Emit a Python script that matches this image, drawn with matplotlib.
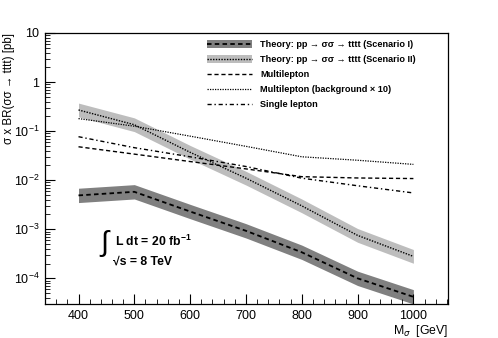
import numpy as np
import matplotlib.pyplot as plt
from matplotlib.patches import Patch
from matplotlib.ticker import FixedLocator, LogLocator, FuncFormatter, NullFormatter

plt.rcParams['font.family'] = ['Liberation Sans', 'DejaVu Sans']
plt.rcParams['mathtext.fontset'] = 'custom'
plt.rcParams['mathtext.rm'] = 'Liberation Sans'
plt.rcParams['mathtext.bf'] = 'Liberation Sans:bold'

# masses (GeV)
mass = [400, 500, 600, 700, 800, 900, 1000]

# theory cross sections (pb) and band factors
theory_1 = [4.9e-3, 5.8e-3, 2.3e-3, 9.3e-4, 3.4e-4, 1.0e-4, 4.2e-5]
theory_2 = [0.27, 0.135, 0.037, 0.011, 3.0e-3, 7.5e-4, 2.8e-4]
band_1 = 1.4
band_2 = 1.38

# limits (pb)
multilepton = [0.048, 0.034, 0.024, 0.017, 0.0118, 0.0111, 0.0108]
multilepton_bkg = [0.18, 0.126, 0.079, 0.049, 0.030, 0.0255, 0.021]
single_lepton = [0.077, 0.046, 0.030, 0.019, 0.011, 0.0077, 0.0055]

mass = np.array(mass)
theory_1 = np.array(theory_1)
theory_2 = np.array(theory_2)

fig = plt.figure(figsize=(4.98, 3.38), dpi=100)
ax = fig.add_axes([0.0904, 0.1006, 0.8092, 0.8018])

ax.fill_between(mass, theory_1 / band_1, theory_1 * band_1, color='#808080', lw=0)
ax.fill_between(mass, theory_2 / band_2, theory_2 * band_2, color='#bdbdbd', lw=0)
h1, = ax.plot(mass, theory_1, color='black', ls=(0, (2.5, 1.8)), lw=1.3)
h2, = ax.plot(mass, theory_2, color='black', ls=(0, (1, 1)), lw=1.0)
h3, = ax.plot(mass, multilepton, color='black', ls=(0, (3, 2)), lw=1.0)
h4, = ax.plot(mass, multilepton_bkg, color='black', ls=(0, (1, 1)), lw=0.9)
h5, = ax.plot(mass, single_lepton, color='black', ls=(0, (3, 2, 1, 2)), lw=1.0)

p1 = Patch(color='#808080', lw=0)
p2 = Patch(color='#bdbdbd', lw=0)

labels = ['Theory: pp \u2192 σσ \u2192 tttt (Scenario I)',
          'Theory: pp \u2192 σσ \u2192 tttt (Scenario II)',
          'Multilepton',
          'Multilepton (background \u00d7 10)',
          'Single lepton']
leg = ax.legend([(p1, h1), (p2, h2), h3, h4, h5], labels,
                loc='upper left', bbox_to_anchor=(0.402, 0.974),
                frameon=False,
                prop={'size': 6.6, 'weight': 'bold'},
                handlelength=4.9, handleheight=1.0, labelspacing=0.63,
                borderpad=0, handletextpad=0.87, borderaxespad=0)

ax.set_yscale('log')
ax.set_xlim(340, 1062)
ax.set_ylim(3.0e-5, 10)

ax.xaxis.set_major_locator(FixedLocator([400, 500, 600, 700, 800, 900, 1000]))
ax.xaxis.set_minor_locator(FixedLocator(np.arange(340, 1061, 20)))
ax.yaxis.set_major_locator(LogLocator(base=10, numticks=12))
ax.yaxis.set_minor_locator(LogLocator(base=10, subs=np.arange(2, 10), numticks=12))
ax.yaxis.set_minor_formatter(NullFormatter())


def ylab(v, pos):
    e = int(round(np.log10(v)))
    if e == 1:
        return '10'
    if e == 0:
        return '1'
    return r'$10^{%d}$' % e


ax.yaxis.set_major_formatter(FuncFormatter(ylab))
ax.tick_params(which='both', direction='in', top=False, right=False, labelsize=9)
ax.tick_params(which='major', length=7, width=0.8, pad=4)
ax.tick_params(which='minor', length=3.5, width=0.6)
for s in ax.spines.values():
    s.set_linewidth(0.9)

ax.set_ylabel('σ x BR(σσ \u2192 tttt) [pb]', fontsize=8.3, loc='top')
ax.yaxis.set_label_coords(-0.074, 1.0)
ax.set_xlabel(r'M$_{\sigma}$  [GeV]', fontsize=8.8, loc='right', labelpad=1)

ax.text(0.133, 0.222, r'$\int$', transform=ax.transAxes, fontsize=21,
        va='center', ha='left')
ax.text(0.173, 0.232, r'L dt = 20 fb$^{\mathbf{-1}}$', transform=ax.transAxes,
        fontsize=8.8, fontweight='bold', va='center', ha='left')
ax.text(0.168, 0.158, '\u221as = 8 TeV', transform=ax.transAxes,
        fontsize=8.8, fontweight='bold', va='center', ha='left')

fig.savefig('out.png', dpi=100)
